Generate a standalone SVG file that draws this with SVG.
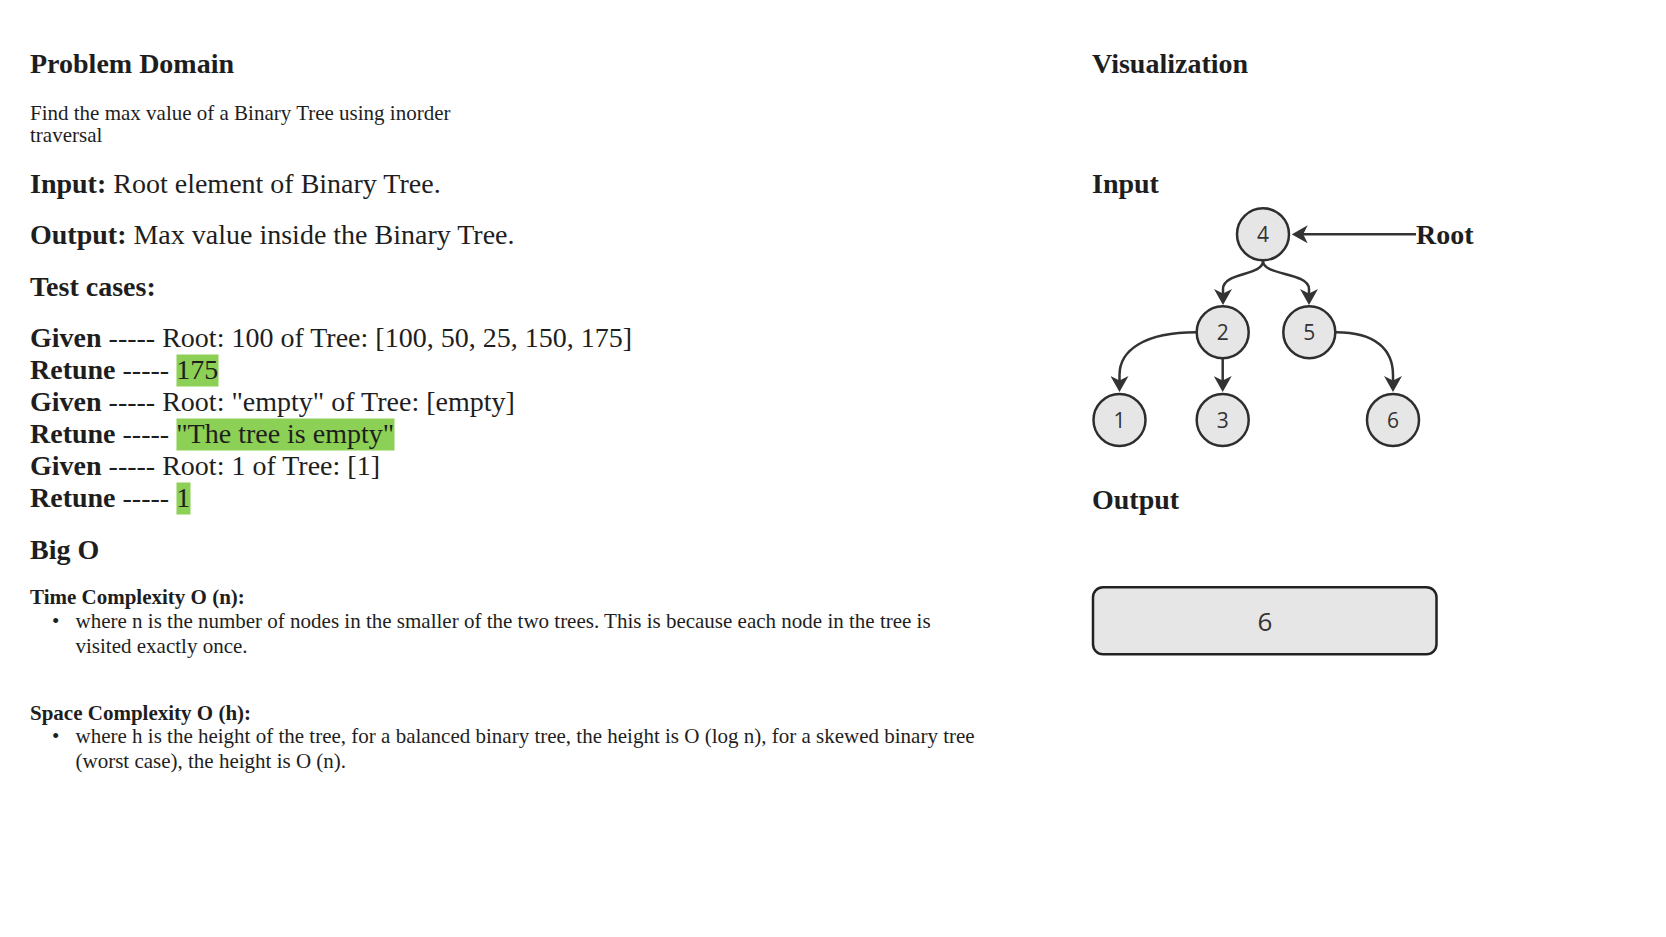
<svg xmlns="http://www.w3.org/2000/svg" width="1666" height="937" viewBox="0 0 1666 937">
<style>
.t{font-family:"Liberation Serif","Times New Roman",serif;fill:#1e1e1e}
.h{font-size:28px;font-weight:bold}
.r{font-size:28px}
.s{font-size:21px}
.sb{font-size:21px;font-weight:bold}
.b{font-weight:bold}
.hl{fill:#8cd055}
.node circle{fill:#e6e6e6;stroke:#2e2e2e;stroke-width:2.5}
.node text,.box text{font-family:"Open Sans","Noto Sans",sans-serif;font-size:21px;fill:#333;text-anchor:middle}
.box rect{fill:#e6e6e6;stroke:#222;stroke-width:2.5}
.edge{fill:none;stroke:#333;stroke-width:2.5}
</style>
<defs>
<marker id="arr" viewBox="0 0 16 18" refX="5" refY="9" markerWidth="16" markerHeight="18" markerUnits="userSpaceOnUse" orient="auto">
<path d="M0,0 L16,9 L0,18 L4.5,9 Z" fill="#333"/>
</marker>
</defs>
<rect width="1666" height="937" fill="#fff"/>

<g id="left-text">
<text class="t h" x="30" y="73">Problem Domain</text>
<text class="t s" x="30" y="119.5">Find the max value of a Binary Tree using inorder</text>
<text class="t s" x="30" y="142">traversal</text>
<text class="t r" x="30" y="192.5"><tspan class="b">Input:</tspan> Root element of Binary Tree.</text>
<text class="t r" x="30" y="243.5"><tspan class="b">Output:</tspan> Max value inside the Binary Tree.</text>
<text class="t h" x="30" y="295.5">Test cases:</text>

<rect class="hl" x="176.5" y="354.5" width="42" height="32"/>
<rect class="hl" x="176.5" y="418.5" width="218" height="32"/>
<rect class="hl" x="176.5" y="482.5" width="14" height="32"/>
<text class="t r" x="30" y="347"><tspan class="b">Given</tspan> ----- Root: 100 of Tree: [100, 50, 25, 150, 175]</text>
<text class="t r" x="30" y="379"><tspan class="b">Retune</tspan> ----- 175</text>
<text class="t r" x="30" y="411"><tspan class="b">Given</tspan> ----- Root: "empty" of Tree: [empty]</text>
<text class="t r" x="30" y="443"><tspan class="b">Retune</tspan> ----- "The tree is empty"</text>
<text class="t r" x="30" y="475"><tspan class="b">Given</tspan> ----- Root: 1 of Tree: [1]</text>
<text class="t r" x="30" y="507"><tspan class="b">Retune</tspan> ----- 1</text>

<text class="t h" x="30" y="558.5">Big O</text>
<text class="t sb" x="30" y="604">Time Complexity O (n):</text>
<text class="t s" x="52" y="628">•</text>
<text class="t s" x="75.5" y="628">where n is the number of nodes in the smaller of the two trees. This is because each node in the tree is</text>
<text class="t s" x="75.5" y="652.5">visited exactly once.</text>
<text class="t sb" x="30" y="719.5">Space Complexity O (h):</text>
<text class="t s" x="52" y="743">•</text>
<text class="t s" x="75.5" y="743">where h is the height of the tree, for a balanced binary tree, the height is O (log n), for a skewed binary tree</text>
<text class="t s" x="75.5" y="767.5">(worst case), the height is O (n).</text>
</g>

<g id="right-text">
<text class="t h" x="1092" y="73">Visualization</text>
<text class="t h" x="1092" y="192.5">Input</text>
<text class="t h" x="1416" y="243.5">Root</text>
<text class="t h" x="1092" y="508.5">Output</text>
</g>

<g id="connectors">
<path class="edge" d="M1416,234.3 L1302.7,234.3" marker-end="url(#arr)"/>
<path class="edge" d="M1263,261 C1263,276 1223,272 1223,289 L1223,294" marker-end="url(#arr)"/>
<path class="edge" d="M1263,261 C1263,276 1309,272 1309,289 L1309,294" marker-end="url(#arr)"/>
<path class="edge" d="M1196,332.3 C1145,332.3 1119.5,350 1119.5,375 L1119.5,381" marker-end="url(#arr)"/>
<path class="edge" d="M1222.7,359 L1222.7,381" marker-end="url(#arr)"/>
<path class="edge" d="M1336,332.3 C1376,332.3 1393,350 1393,375 L1393,381" marker-end="url(#arr)"/>
</g>

<g id="node-4" class="node"><circle cx="1263" cy="234.3" r="26"/><text x="1263" y="241.8">4</text></g>
<g id="node-2" class="node"><circle cx="1222.7" cy="332.3" r="26"/><text x="1222.7" y="339.8">2</text></g>
<g id="node-5" class="node"><circle cx="1309.3" cy="332.3" r="26"/><text x="1309.3" y="339.8">5</text></g>
<g id="node-1" class="node"><circle cx="1119.5" cy="420" r="26"/><text x="1119.5" y="427.5">1</text></g>
<g id="node-3" class="node"><circle cx="1222.7" cy="420" r="26"/><text x="1222.7" y="427.5">3</text></g>
<g id="node-6" class="node"><circle cx="1393" cy="420" r="26"/><text x="1393" y="427.5">6</text></g>

<g id="output-box" class="box"><rect x="1093" y="587.3" width="343.5" height="67" rx="10"/><text x="1265" y="630.5" style="font-size:26px">6</text></g>
</svg>
